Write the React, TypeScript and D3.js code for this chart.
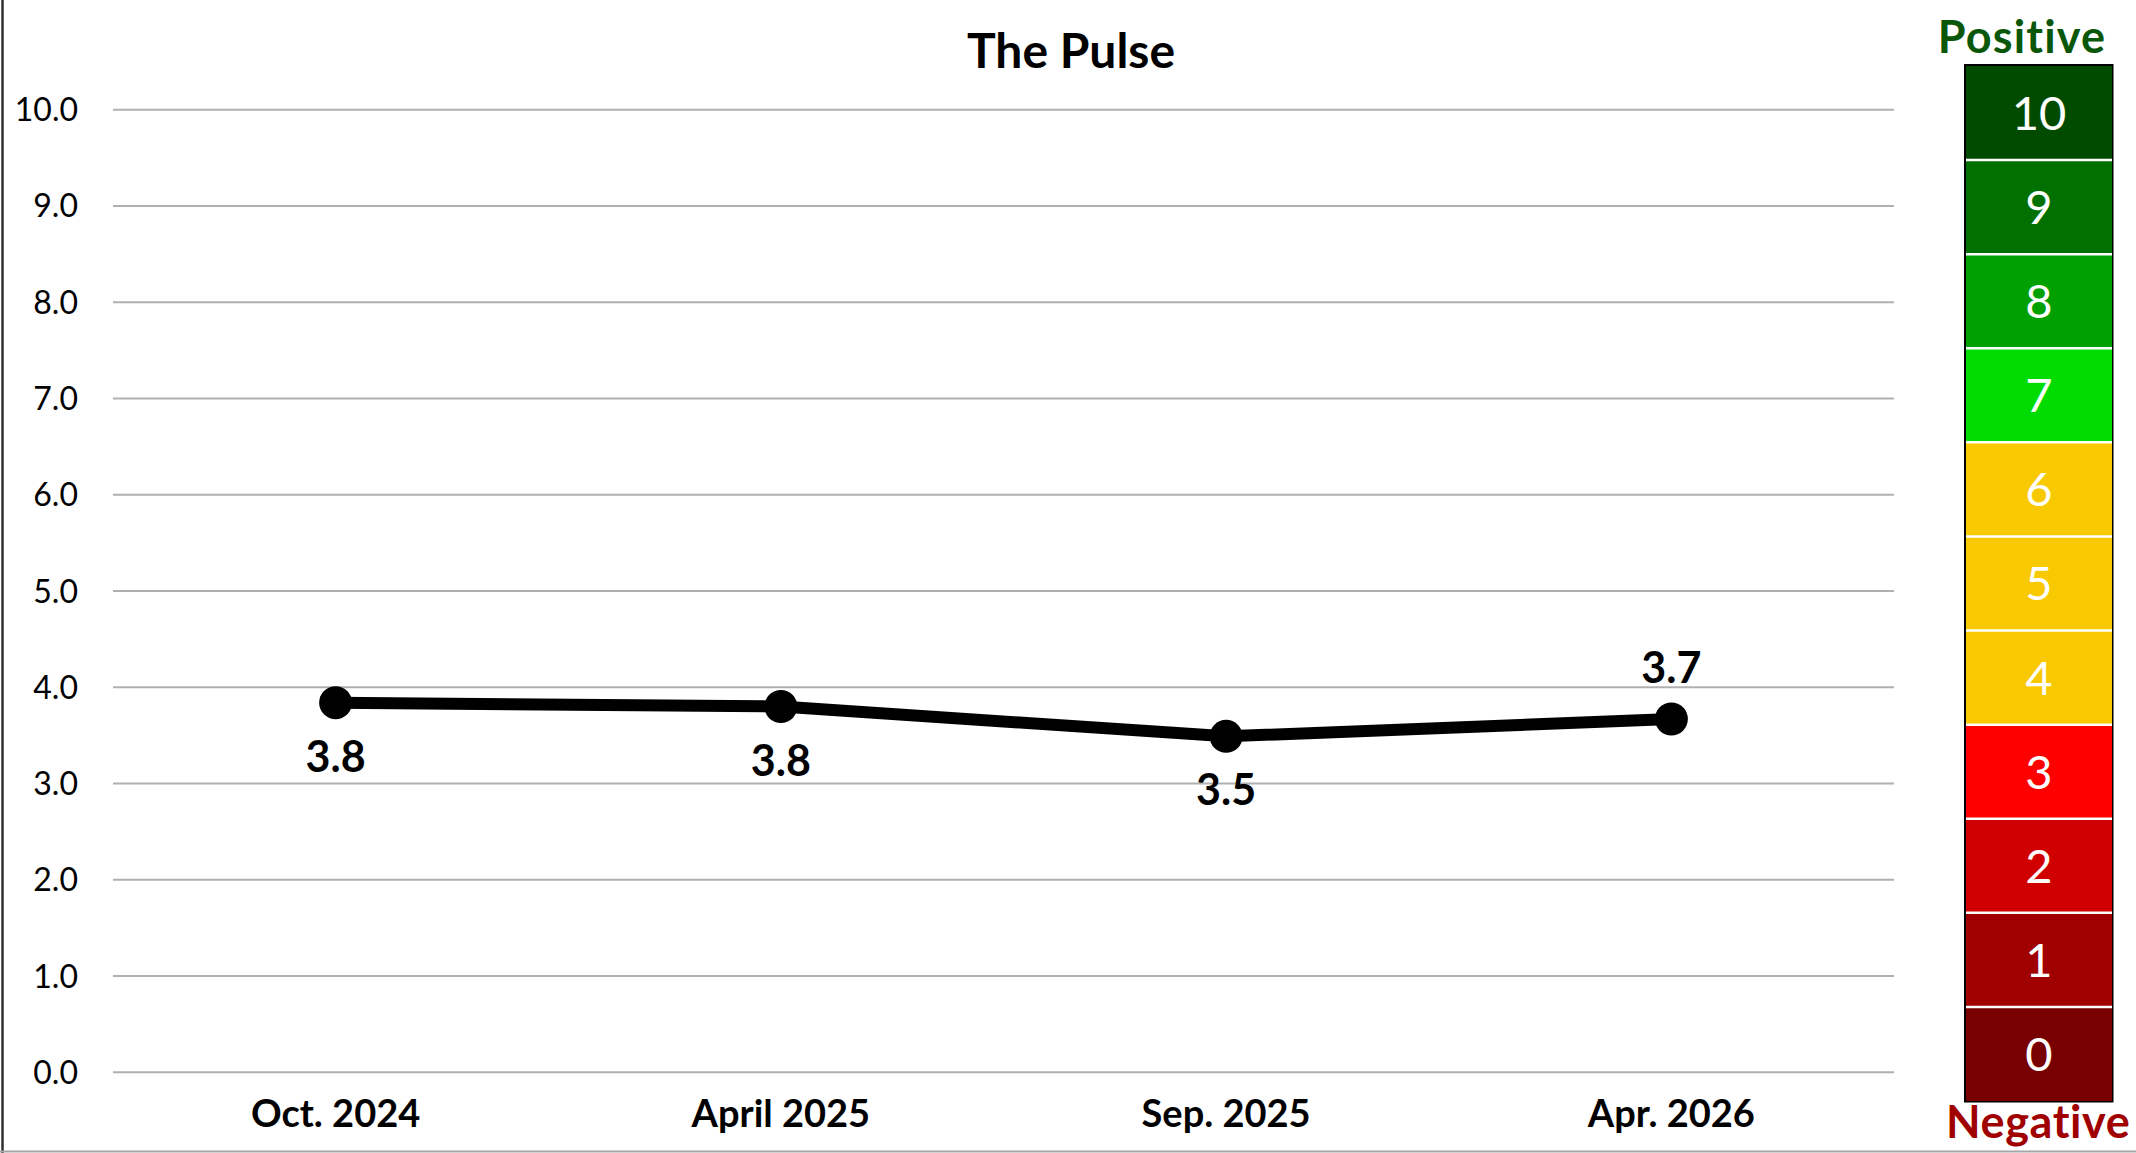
import React from "react";
import * as d3 from "d3";

const categories: string[] = ["Oct. 2024", "April 2025", "Sep. 2025", "Apr. 2026"];
const pulseValues: number[] = [3.84, 3.8, 3.49, 3.67];
const pulseLabels: string[] = ["3.8", "3.8", "3.5", "3.7"];
const labelSides: string[] = ["below", "below", "below", "above"];
const yTicks: number[] = [0, 1, 2, 3, 4, 5, 6, 7, 8, 9, 10];
const legendLevels: number[] = [10, 9, 8, 7, 6, 5, 4, 3, 2, 1, 0];
const legendColors: string[] = [
  "#004B00", "#007000", "#00A000", "#00DC00", "#F8C800", "#F8C800",
  "#F8C800", "#FF0000", "#D00000", "#A00000", "#780000",
];

const W = 2136;
const H = 1153;
const FONT = "Lato, 'Open Sans', 'Noto Sans', sans-serif";

export default function App() {
  const x = d3.scalePoint<string>().domain(categories).range([113, 1894]).padding(0.5);
  const y = d3.scaleLinear().domain([0, 10]).range([1072.3, 109.7]);
  const line = d3
    .line<number>()
    .x((_, i) => x(categories[i]) as number)
    .y((d) => y(d));

  const legendY = d3
    .scaleBand<number>()
    .domain(legendLevels)
    .range([66, 1101])
    .paddingInner(0);
  const legendX0 = 1966;
  const legendX1 = 2112;
  const legendCx = (legendX0 + legendX1) / 2;

  return (
    <div style={{ position: "absolute", left: 0, top: 0, overflow: "hidden", width: W, height: H }}>
      <svg width={W} height={H} style={{ display: "block", background: "#fff" }}>
        {/* chart border */}
        <line x1={2.5} x2={2.5} y1={0} y2={H} stroke="#303030" strokeWidth={2.5} />
        <line x1={0} x2={W} y1={1151.5} y2={1151.5} stroke="#A6A6A6" strokeWidth={2} />

        {/* title */}
        <text x={1071} y={68} textAnchor="middle" fontFamily={FONT} fontWeight={700} fontSize={48} fill="#000">
          The Pulse
        </text>

        {/* gridlines + y tick labels */}
        {yTicks.map((t) => (
          <g key={t}>
            <line x1={113} x2={1894} y1={y(t)} y2={y(t)} stroke="#B0B0B2" strokeWidth={2} />
            <text
              x={78}
              y={y(t)}
              dy="0.36em"
              textAnchor="end"
              fontFamily={FONT}
              fontSize={32}
              fill="#000"
            >
              {t.toFixed(1)}
            </text>
          </g>
        ))}

        {/* x labels */}
        {categories.map((c) => (
          <text
            key={c}
            x={x(c)}
            y={1126.7}
            textAnchor="middle"
            fontFamily={FONT}
            fontWeight={700}
            fontSize={38}
            fill="#000"
          >
            {c}
          </text>
        ))}

        {/* line */}
        <path d={line(pulseValues) || ""} fill="none" stroke="#000" strokeWidth={12} strokeLinejoin="round" />
        {pulseValues.map((v, i) => (
          <circle key={i} cx={x(categories[i])} cy={y(v)} r={16.5} fill="#000" />
        ))}
        {pulseValues.map((v, i) => (
          <text
            key={"l" + i}
            x={x(categories[i])}
            y={labelSides[i] === "below" ? y(v) + 69 : y(v) - 36}
            textAnchor="middle"
            fontFamily={FONT}
            fontWeight={700}
            fontSize={43}
            fill="#000"
          >
            {pulseLabels[i]}
          </text>
        ))}

        {/* legend */}
        <text
          x={2022}
          y={53}
          textAnchor="middle"
          fontFamily={FONT}
          fontWeight={700}
          fontSize={45}
          letterSpacing={1.2}
          fill="#0A570A"
        >
          Positive
        </text>
        <rect x={1964} y={64} width={149.5} height={1038.5} fill="#000" />
        {legendLevels.map((lv, i) => (
          <g key={lv}>
            <rect
              x={legendX0}
              y={legendY(lv) as number}
              width={legendX1 - legendX0}
              height={legendY.bandwidth()}
              fill={legendColors[i]}
            />
            <text
              x={legendCx}
              y={(legendY(lv) as number) + legendY.bandwidth() / 2}
              dy="0.36em"
              textAnchor="middle"
              fontFamily={FONT}
              fontSize={47}
              fill="#fff"
            >
              {lv}
            </text>
          </g>
        ))}
        {legendLevels.slice(1).map((lv) => (
          <line
            key={"d" + lv}
            x1={legendX0}
            x2={legendX1}
            y1={legendY(lv) as number}
            y2={legendY(lv) as number}
            stroke="#fff"
            strokeWidth={2.5}
          />
        ))}
        <text
          x={1946}
          y={1138}
          textAnchor="start"
          fontFamily={FONT}
          fontWeight={700}
          fontSize={45}
          letterSpacing={0.6}
          fill="#A00000"
        >
          Negative
        </text>
      </svg>
    </div>
  );
}
